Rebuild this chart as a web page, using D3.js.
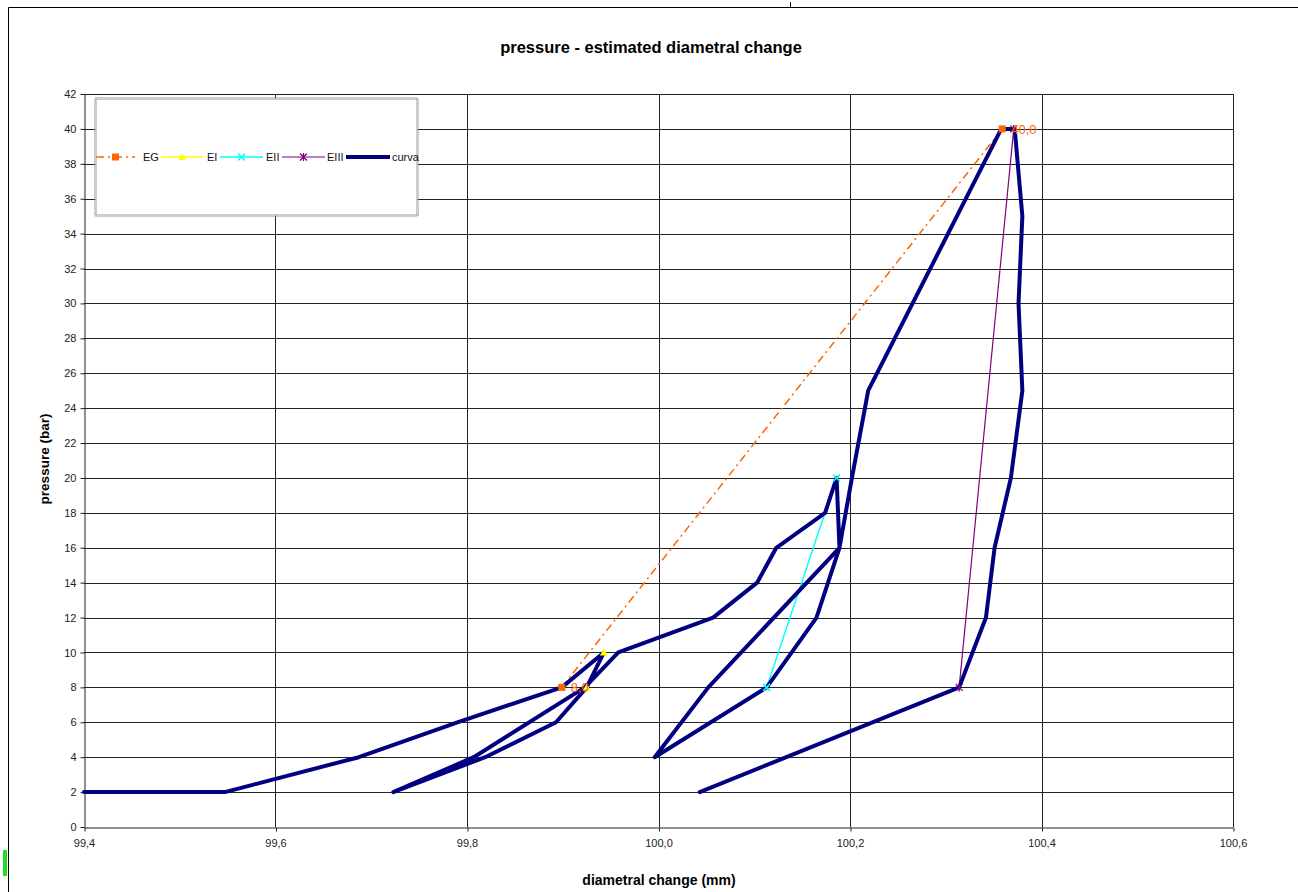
<!DOCTYPE html>
<html>
<head>
<meta charset="utf-8">
<script src="https://cdn.jsdelivr.net/npm/d3@7"></script>
<style>
  html, body { margin: 0; padding: 0; background: #fff; }
  svg { display: block; }
  text { font-family: "Liberation Sans", Arial, sans-serif; }
</style>
</head>
<body>
<svg id="chart" width="1298" height="892"></svg>
<script>
// ---------- data ----------
const xTicks = [99.4, 99.6, 99.8, 100.0, 100.2, 100.4, 100.6];
const yTicks = [0, 2, 4, 6, 8, 10, 12, 14, 16, 18, 20, 22, 24, 26, 28, 30, 32, 34, 36, 38, 40, 42];

// curva: diametral change (mm) and pressure (bar), in measurement order
const curvaX = [99.400, 99.547, 99.687, 99.790, 99.899, 99.943, 99.925, 99.893, 99.819, 99.723,
                99.807, 99.923, 99.958, 100.057, 100.103, 100.123, 100.174, 100.186, 100.189, 100.052,
                99.996, 100.113, 100.165, 100.189, 100.202, 100.219, 100.358, 100.372, 100.380, 100.376,
                100.380, 100.368, 100.351, 100.342, 100.314, 100.043];
const curvaP = [2, 2, 4, 6, 8, 10, 8, 6, 4, 2,
                4, 8, 10, 12, 14, 16, 18, 20, 16, 8,
                4, 8, 12, 16, 20, 25, 40, 40, 35, 30,
                25, 20, 16, 12, 8, 2];

const egX = [99.899, 100.359];   const egP = [8, 40];
const eiX = [99.925, 99.943];    const eiP = [8, 10];
const eiiX = [100.113, 100.186]; const eiiP = [8, 20];
const eiiiX = [100.314, 100.371]; const eiiiP = [8, 40];

const seriesNames = ["EG", "EI", "EII", "EIII", "curva"];
const titleText = "pressure - estimated diametral change";
const xLabel = "diametral change (mm)";
const yLabel = "pressure (bar)";

// ---------- drawing ----------
const svg = d3.select("#chart");
const x = d3.scaleLinear().domain([99.4, 100.6]).range([84, 1233]);
const y = d3.scaleLinear().domain([0, 42]).range([827, 94]);
const fmt = d => d.toFixed(1).replace(".", ",");

// outer chart frame
svg.append("path").attr("d", "M8.5,900 L8.5,7.5 L1310,7.5")
  .attr("fill", "none").attr("stroke", "#000").attr("stroke-width", 1);
svg.append("line").attr("x1", 790.5).attr("x2", 790.5).attr("y1", 2).attr("y2", 7)
  .attr("stroke", "#000");
svg.append("rect").attr("x", 3).attr("y", 850).attr("width", 4).attr("height", 26).attr("fill", "#22dd22");

// title
svg.append("text").attr("x", 651).attr("y", 53).attr("text-anchor", "middle")
  .attr("font-size", 16.5).attr("font-weight", "bold").attr("fill", "#000").text(titleText);

// gridlines
const grid = svg.append("g");
grid.selectAll("line.h").data(yTicks.filter(d => d > 0)).join("line")
  .attr("x1", x(99.4)).attr("x2", x(100.6))
  .attr("y1", d => Math.round(y(d)) + 0.5).attr("y2", d => Math.round(y(d)) + 0.5)
  .attr("stroke", "#222").attr("stroke-width", 1);
grid.selectAll("line.v").data(xTicks.filter(d => d > 99.41)).join("line")
  .attr("y1", y(0)).attr("y2", y(42))
  .attr("x1", d => Math.round(x(d)) + 0.5).attr("x2", d => Math.round(x(d)) + 0.5)
  .attr("stroke", "#222").attr("stroke-width", 1);

// axes
const xAxis = svg.append("g").attr("transform", `translate(0,${Math.round(y(0)) + 0.5})`)
  .call(d3.axisBottom(x).tickValues(xTicks).tickFormat(fmt).tickSizeInner(4).tickSizeOuter(0).tickPadding(8));
const yAxis = svg.append("g").attr("transform", `translate(${Math.round(x(99.4)) + 0.5},0)`)
  .call(d3.axisLeft(y).tickValues(yTicks).tickFormat(d3.format("d")).tickSizeInner(4).tickSizeOuter(0).tickPadding(4));
[xAxis, yAxis].forEach(a => {
  a.select(".domain").attr("stroke", "#222");
  a.selectAll(".tick line").attr("stroke", "#222");
  a.selectAll(".tick text").attr("font-size", 11).attr("fill", "#222")
    .attr("font-family", "'Liberation Sans', Arial, sans-serif");
});
xAxis.selectAll(".tick line").attr("transform", "translate(0.5,0)");

// axis titles
svg.append("text").attr("x", 659).attr("y", 885).attr("text-anchor", "middle")
  .attr("font-size", 14).attr("font-weight", "bold").text(xLabel);
svg.append("text").attr("transform", "translate(49,459) rotate(-90)").attr("text-anchor", "middle")
  .attr("font-size", 13.5).attr("font-weight", "bold").text(yLabel);

// lines
const line = d3.line().x(d => x(d[0])).y(d => y(d[1]));
const zipPts = (xs, ps) => xs.map((v, i) => [v, ps[i]]);
const lines = svg.append("g");
lines.append("path").attr("d", line(zipPts(egX, egP))).attr("fill", "none")
  .attr("stroke", "#FF6600").attr("stroke-width", 1.5).attr("stroke-dasharray", "8,4,2,4");
lines.append("path").attr("d", line(zipPts(eiX, eiP))).attr("fill", "none")
  .attr("stroke", "#FFFF00").attr("stroke-width", 1.5);
lines.append("path").attr("d", line(zipPts(eiiX, eiiP))).attr("fill", "none")
  .attr("stroke", "#00FFFF").attr("stroke-width", 1.5);
lines.append("path").attr("d", line(zipPts(eiiiX, eiiiP))).attr("fill", "none")
  .attr("stroke", "#800080").attr("stroke-width", 1.2);
lines.append("path").attr("d", line(zipPts(curvaX, curvaP))).attr("fill", "none")
  .attr("stroke", "#000080").attr("stroke-width", 4).attr("stroke-linejoin", "round").attr("stroke-linecap", "round");

// marker helpers
function square(g, cx, cy) {
  g.append("rect").attr("x", cx - 3.5).attr("y", cy - 3.5).attr("width", 7).attr("height", 7).attr("fill", "#FF6600");
}
function triangle(g, cx, cy) {
  g.append("path").attr("d", `M${cx},${cy - 4} L${cx + 4},${cy + 3} L${cx - 4},${cy + 3} Z`).attr("fill", "#FFFF00");
}
function cross(g, cx, cy) {
  g.append("path").attr("d", `M${cx - 3.5},${cy - 3.5} L${cx + 3.5},${cy + 3.5} M${cx - 3.5},${cy + 3.5} L${cx + 3.5},${cy - 3.5}`)
    .attr("stroke", "#00FFFF").attr("stroke-width", 1.5);
}
function star(g, cx, cy) {
  g.append("path").attr("d", `M${cx - 3.5},${cy - 3.5} L${cx + 3.5},${cy + 3.5} M${cx - 3.5},${cy + 3.5} L${cx + 3.5},${cy - 3.5} M${cx},${cy - 4} L${cx},${cy + 4}`)
    .attr("stroke", "#800080").attr("stroke-width", 1.3);
}

const markers = svg.append("g");
egX.forEach((v, i) => square(markers, x(v), y(egP[i])));
eiX.forEach((v, i) => triangle(markers, x(v), y(eiP[i])));
eiiX.forEach((v, i) => cross(markers, x(v), y(eiiP[i])));
eiiiX.forEach((v, i) => star(markers, x(v), y(eiiiP[i])));

// EG data labels
svg.append("g").selectAll("text").data(zipPts(egX, egP)).join("text")
  .attr("x", d => x(d[0]) + 9).attr("y", d => y(d[1]) + 5)
  .attr("font-size", 13).attr("fill", "#FF6600").text(d => fmt(d[1]));

// legend
const lg = svg.append("g");
lg.append("rect").attr("x", 95.5).attr("y", 98.5).attr("width", 322).attr("height", 117)
  .attr("fill", "#fff").attr("stroke", "#999").attr("stroke-width", 3).attr("stroke-dasharray", "1,1");
const ly = 157;
const legendItems = [
  { x1: 96, x2: 135, tx: 143, color: "#FF6600", w: 1.5, dash: "8,4,2,4", mk: square },
  { x1: 161, x2: 203, tx: 207, color: "#FFFF00", w: 1.5, dash: null, mk: triangle },
  { x1: 220, x2: 263, tx: 266, color: "#00FFFF", w: 1.5, dash: null, mk: cross },
  { x1: 282, x2: 325, tx: 327, color: "#800080", w: 1.2, dash: null, mk: star },
  { x1: 346, x2: 390, tx: 392, color: "#000080", w: 4, dash: null, mk: null }
];
legendItems.forEach((it, i) => {
  const l = lg.append("line").attr("x1", it.x1).attr("x2", it.x2).attr("y1", ly).attr("y2", ly)
    .attr("stroke", it.color).attr("stroke-width", it.w);
  if (it.dash) l.attr("stroke-dasharray", it.dash);
  if (it.mk) it.mk(lg, (it.x1 + it.x2) / 2, ly);
  lg.append("text").attr("x", it.tx).attr("y", ly + 4).attr("font-size", 11).attr("fill", "#111").text(seriesNames[i]);
});
</script>
</body>
</html>
